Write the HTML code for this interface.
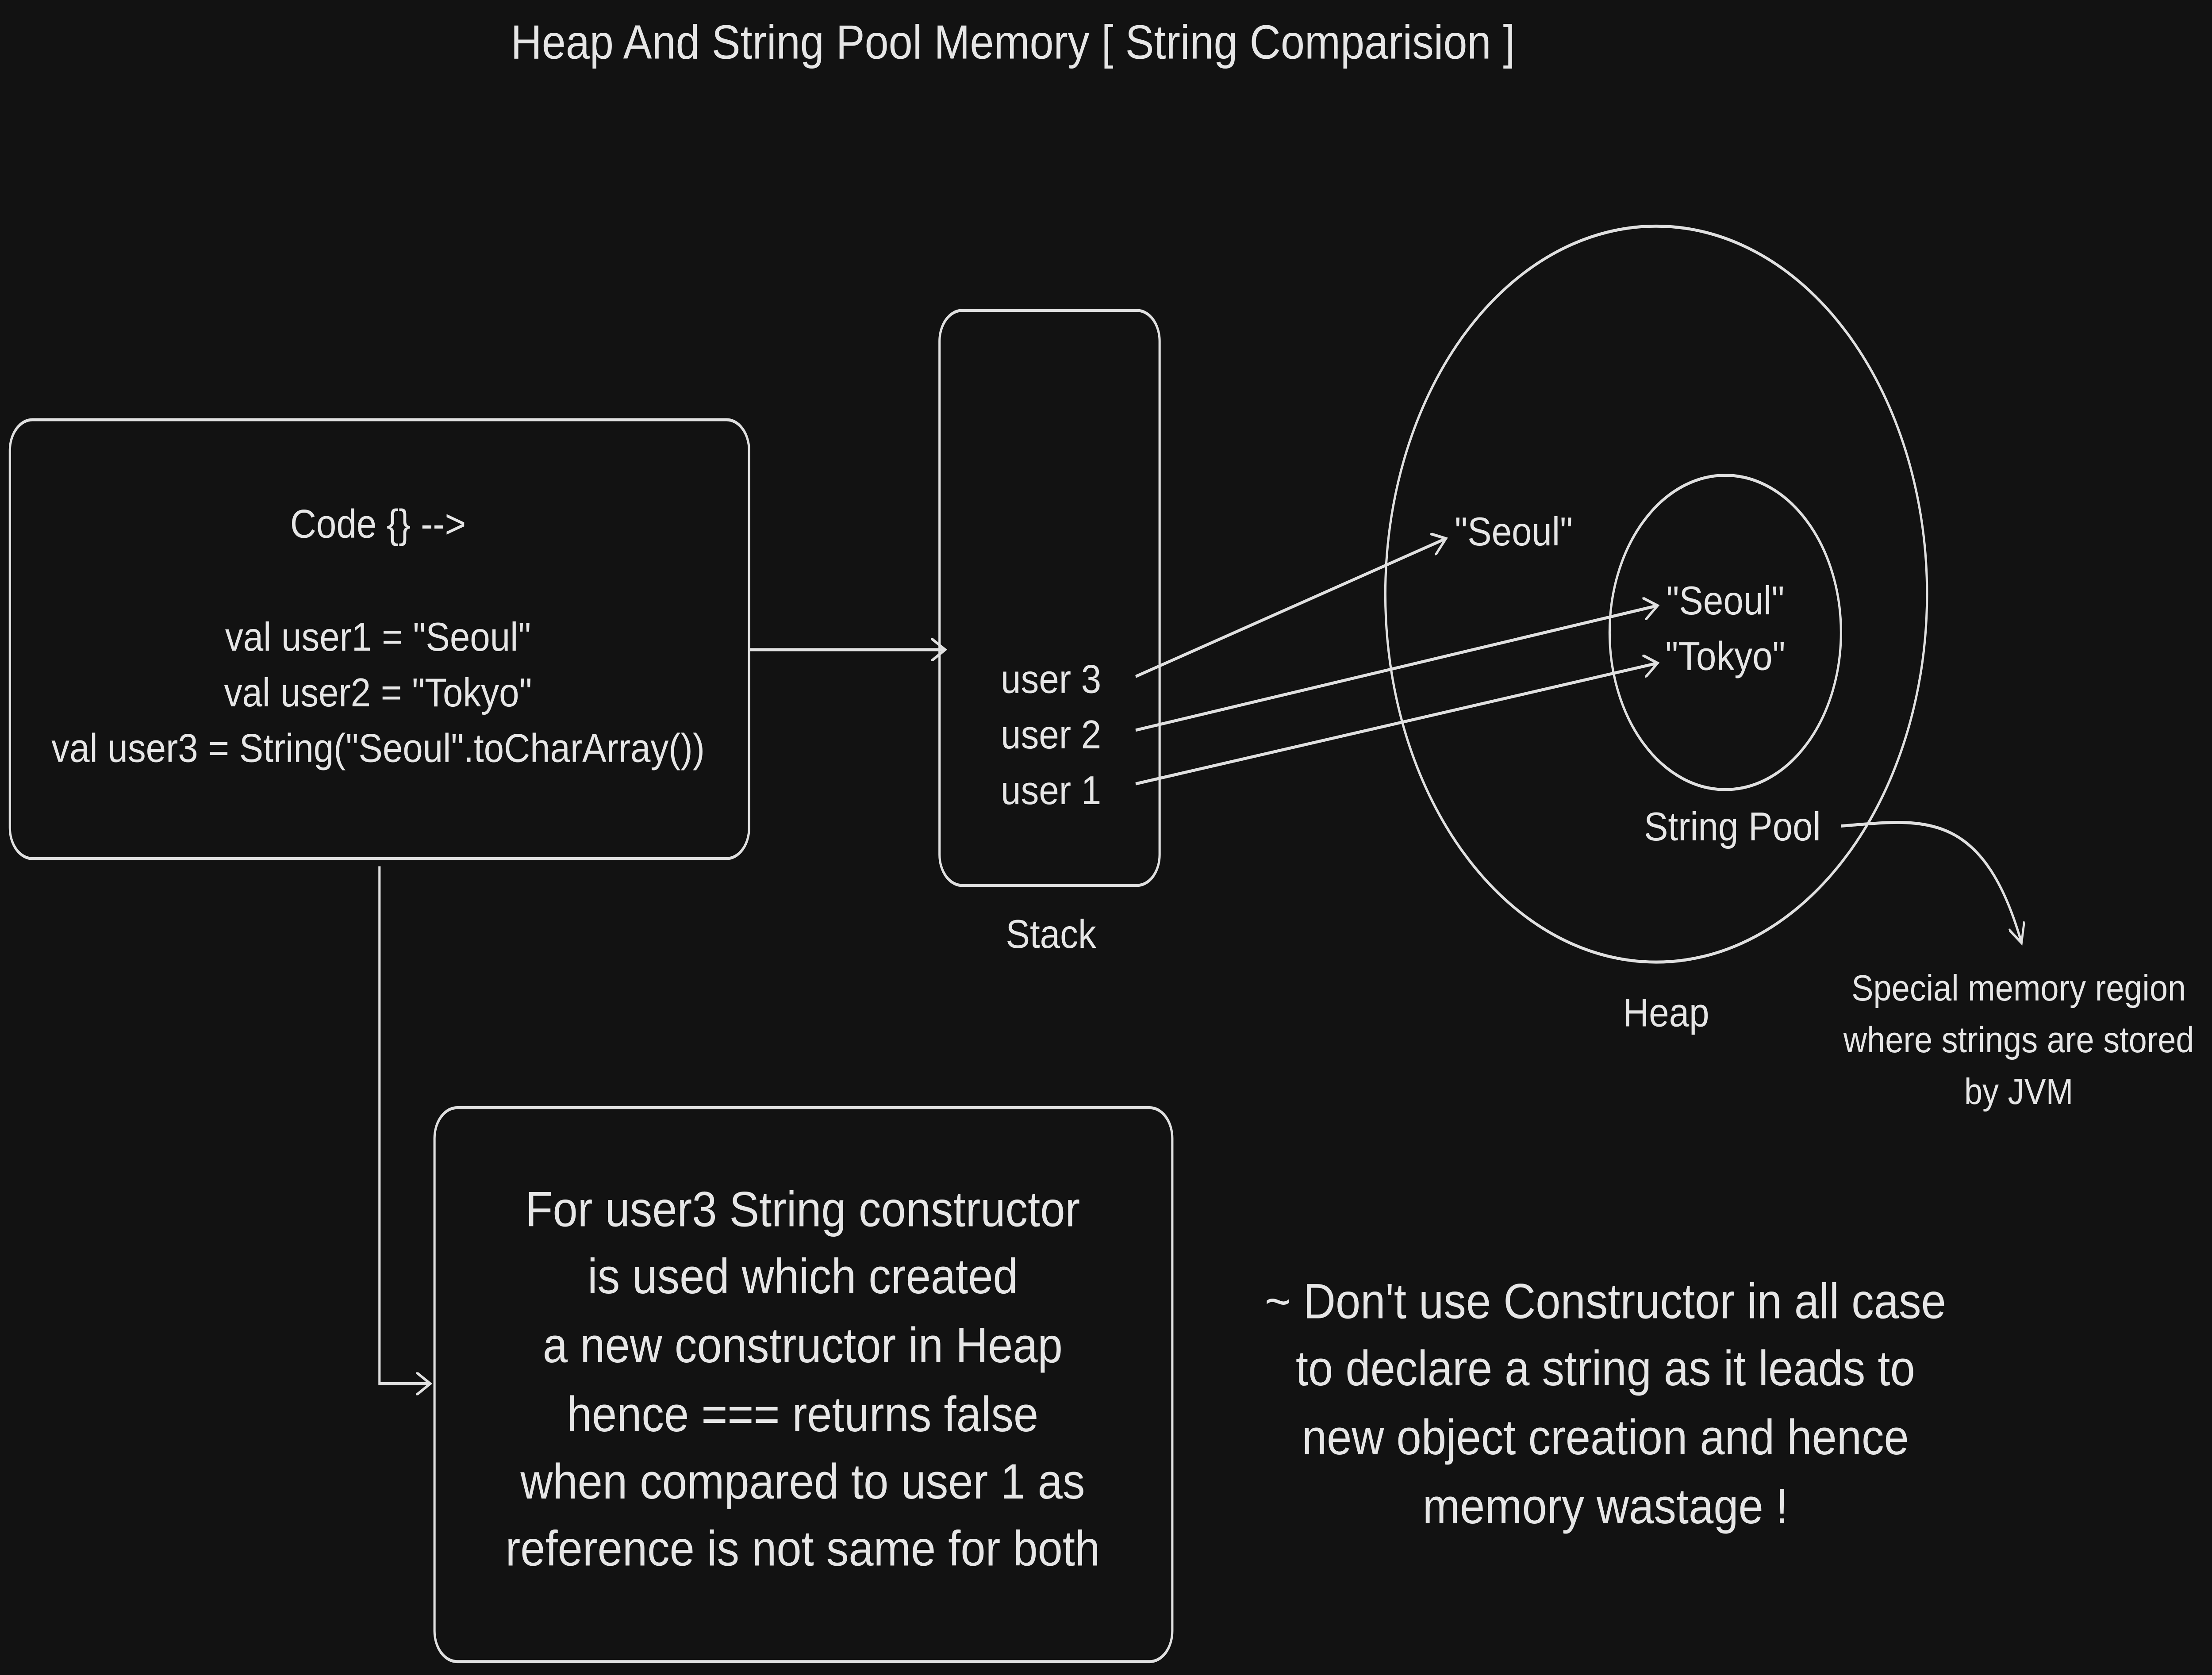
<!DOCTYPE html>
<html><head><meta charset="utf-8"><style>
html,body{margin:0;padding:0;background:#121212;width:100%;height:100%;overflow:hidden;}
svg{display:block;width:100vw;height:100vh;}
text{font-family:"Liberation Sans",sans-serif;fill:#e6e6e6;text-anchor:middle;dominant-baseline:middle;}
</style></head><body>
<svg viewBox="0 0 1568 874" preserveAspectRatio="none" xmlns="http://www.w3.org/2000/svg">
<defs><marker id="a" markerWidth="12" markerHeight="12" refX="10" refY="6" orient="auto" markerUnits="userSpaceOnUse"><path d="M0,0 L10,6 L0,12" fill="none" stroke="#e0e0e0" stroke-width="1.5"/></marker></defs>
<rect width="1568" height="874" fill="#121212"/>
<g fill="none" stroke="#e0e0e0" stroke-width="1.6">
<rect x="7" y="219" width="524" height="229" rx="16"/>
<rect x="666" y="162" width="156" height="300" rx="16"/>
<rect x="308" y="578" width="523" height="289" rx="16"/>
<circle cx="1174" cy="310" r="192"/>
<circle cx="1223" cy="330" r="82"/>
<line x1="531" y1="339" x2="670" y2="339" marker-end="url(#a)"/>
<line x1="805" y1="353" x2="1025" y2="281" marker-end="url(#a)"/>
<line x1="805" y1="381" x2="1175" y2="316" marker-end="url(#a)"/>
<line x1="805" y1="409" x2="1175" y2="346" marker-end="url(#a)"/>
<path d="M1305,431 C1360,428 1405,420 1433,492" marker-end="url(#a)"/>
<path d="M269,452 L269,722 L305,722" marker-end="url(#a)"/>
</g>
<g transform="translate(718,24) scale(1.22,1)"><text font-size="25">Heap And String Pool Memory [ String Comparision ]</text></g>
<g font-size="21">
<g transform="translate(268,275) scale(1.22,1)"><text>Code {} --&gt;</text></g>
<g transform="translate(268,334) scale(1.22,1)"><text>val user1 = "Seoul"</text></g>
<g transform="translate(268,363) scale(1.22,1)"><text>val user2 = "Tokyo"</text></g>
<g transform="translate(268,392) scale(1.22,1)"><text>val user3 = String("Seoul".toCharArray())</text></g>
<g transform="translate(745,356) scale(1.22,1)"><text>user 3</text></g>
<g transform="translate(745,385) scale(1.22,1)"><text>user 2</text></g>
<g transform="translate(745,414) scale(1.22,1)"><text>user 1</text></g>
<g transform="translate(745,489) scale(1.22,1)"><text>Stack</text></g>
<g transform="translate(1073,279) scale(1.22,1)"><text>"Seoul"</text></g>
<g transform="translate(1223,315) scale(1.22,1)"><text>"Seoul"</text></g>
<g transform="translate(1223,344) scale(1.22,1)"><text>"Tokyo"</text></g>
<g transform="translate(1228,433) scale(1.22,1)"><text>String Pool</text></g>
<g transform="translate(1181,530) scale(1.22,1)"><text>Heap</text></g>
</g>
<g font-size="19">
<g transform="translate(1431,517) scale(1.22,1)"><text>Special memory region</text></g>
<g transform="translate(1431,544) scale(1.22,1)"><text>where strings are stored</text></g>
<g transform="translate(1431,571) scale(1.22,1)"><text>by JVM</text></g>
</g>
<g font-size="26">
<g transform="translate(569,633) scale(1.22,1)"><text>For user3 String constructor</text></g>
<g transform="translate(569,668) scale(1.22,1)"><text>is used which created</text></g>
<g transform="translate(569,704) scale(1.22,1)"><text>a new constructor in Heap</text></g>
<g transform="translate(569,740) scale(1.22,1)"><text>hence === returns false</text></g>
<g transform="translate(569,775) scale(1.22,1)"><text>when compared to user 1 as</text></g>
<g transform="translate(569,810) scale(1.22,1)"><text>reference is not same for both</text></g>
<g transform="translate(1138,681) scale(1.22,1)"><text>~ Don't use Constructor in all case</text></g>
<g transform="translate(1138,716) scale(1.22,1)"><text>to declare a string as it leads to</text></g>
<g transform="translate(1138,752) scale(1.22,1)"><text>new object creation and hence</text></g>
<g transform="translate(1138,788) scale(1.22,1)"><text>memory wastage !</text></g>
</g>
</svg>
</body></html>
